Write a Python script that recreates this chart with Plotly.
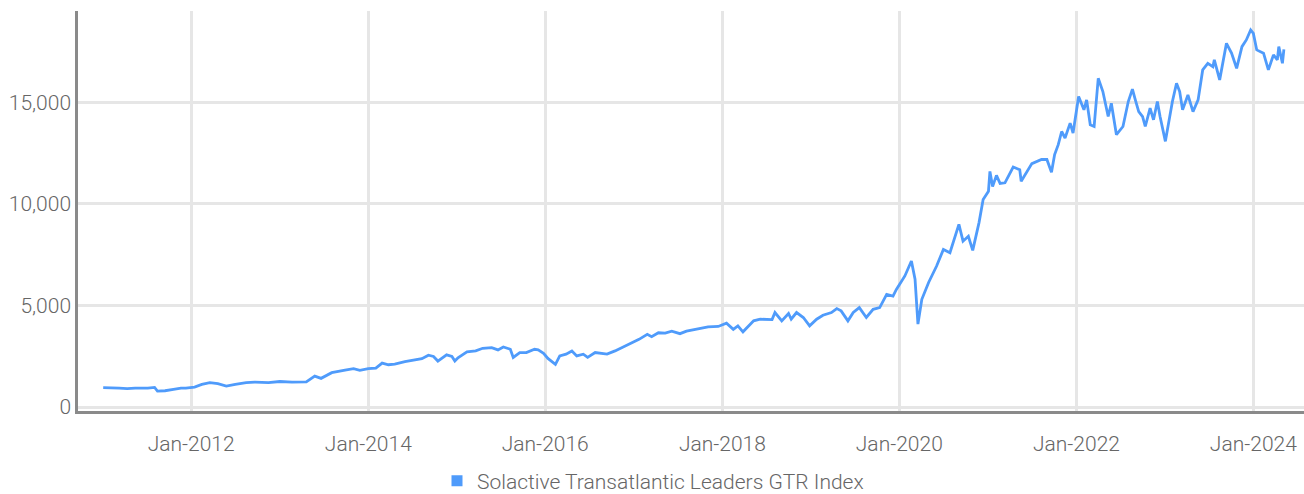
import plotly.graph_objects as go

SERIES_NAME = "Solactive Transatlantic Leaders GTR Index"

dates = [
    "2011-01-03", "2011-02-15", "2011-03-10", "2011-04-12", "2011-05-15", "2011-07-06",
    "2011-08-03", "2011-08-15", "2011-09-15", "2011-10-20", "2011-11-20", "2011-12-10",
    "2012-01-15", "2012-02-14", "2012-03-18", "2012-04-20", "2012-05-25", "2012-07-01",
    "2012-07-28", "2012-08-15", "2012-09-20", "2012-11-15", "2013-01-01", "2013-02-20",
    "2013-04-20", "2013-05-25", "2013-06-20", "2013-08-03", "2013-09-27", "2013-11-01",
    "2013-11-27", "2014-01-01", "2014-02-01", "2014-02-27", "2014-03-25", "2014-04-20",
    "2014-06-01", "2014-07-12", "2014-08-10", "2014-09-06", "2014-09-27", "2014-10-15",
    "2014-11-20", "2014-12-12", "2014-12-24", "2015-01-06", "2015-01-20", "2015-02-12",
    "2015-03-20", "2015-04-18", "2015-05-25", "2015-06-20", "2015-07-12", "2015-08-10",
    "2015-08-22", "2015-09-18", "2015-10-15", "2015-11-18", "2015-12-03", "2015-12-25",
    "2016-01-12", "2016-02-12", "2016-03-01", "2016-03-27", "2016-04-20", "2016-05-10",
    "2016-06-06", "2016-06-24", "2016-07-25", "2016-09-12", "2016-10-15", "2016-12-10",
    "2017-01-22", "2017-02-25", "2017-03-15", "2017-04-12", "2017-05-10", "2017-06-06",
    "2017-07-10", "2017-08-06", "2017-09-10", "2017-10-15", "2017-11-03", "2017-12-15",
    "2018-01-18", "2018-02-15", "2018-03-06", "2018-03-27", "2018-05-10", "2018-06-06",
    "2018-07-25", "2018-08-06", "2018-09-03", "2018-10-01", "2018-10-12", "2018-11-03",
    "2018-12-01", "2018-12-27", "2019-01-25", "2019-02-20", "2019-03-27", "2019-04-18",
    "2019-05-06", "2019-06-03", "2019-06-25", "2019-07-20", "2019-08-18", "2019-09-15",
    "2019-10-12", "2019-11-10", "2019-12-06", "2019-12-20", "2020-01-24", "2020-02-20",
    "2020-03-06", "2020-03-18", "2020-04-03", "2020-05-01", "2020-06-03", "2020-07-01",
    "2020-07-28", "2020-09-03", "2020-09-20", "2020-10-12", "2020-10-30", "2020-11-25",
    "2020-12-12", "2021-01-03", "2021-01-09", "2021-01-20", "2021-02-05", "2021-02-20",
    "2021-03-12", "2021-04-15", "2021-05-12", "2021-05-18", "2021-07-01", "2021-08-10",
    "2021-09-01", "2021-09-20", "2021-10-03", "2021-10-18", "2021-11-01", "2021-11-15",
    "2021-12-06", "2021-12-18", "2022-01-10", "2022-02-01", "2022-02-12", "2022-02-27",
    "2022-03-15", "2022-04-01", "2022-04-20", "2022-05-12", "2022-05-25", "2022-06-15",
    "2022-07-12", "2022-08-03", "2022-08-20", "2022-09-01", "2022-09-15", "2022-10-01",
    "2022-10-12", "2022-11-01", "2022-11-15", "2022-12-01", "2022-12-12", "2023-01-03",
    "2023-02-01", "2023-02-18", "2023-03-03", "2023-03-15", "2023-04-06", "2023-04-27",
    "2023-05-18", "2023-06-06", "2023-06-27", "2023-07-18", "2023-07-24", "2023-08-15",
    "2023-09-12", "2023-10-03", "2023-10-24", "2023-11-15", "2023-12-03", "2023-12-21",
    "2024-01-01", "2024-01-15", "2024-02-12", "2024-03-03", "2024-03-24", "2024-04-09",
    "2024-04-15", "2024-04-30", "2024-05-06",
]

index_values = [
    950, 955, 930, 900, 930, 930,
    965, 785, 800, 865, 930, 930,
    980, 1110, 1195, 1145, 1030, 1110,
    1165, 1195, 1225, 1195, 1255, 1225,
    1240, 1520, 1410, 1690, 1820, 1885,
    1800, 1885, 1915, 2160, 2080, 2110,
    2230, 2305, 2375, 2550, 2485, 2260,
    2565, 2485, 2260, 2425, 2540, 2710,
    2760, 2890, 2925, 2810, 2955, 2840,
    2440, 2680, 2680, 2840, 2810, 2645,
    2390, 2100, 2515, 2600, 2760, 2515,
    2600, 2440, 2680, 2600, 2760, 3085,
    3330, 3575, 3460, 3655, 3640, 3735,
    3610, 3735, 3820, 3900, 3945, 3965,
    4125, 3820, 3995, 3700, 4240, 4320,
    4305, 4650, 4240, 4600, 4320, 4650,
    4405, 3995, 4320, 4515, 4650, 4845,
    4730, 4240, 4650, 4890, 4405, 4810,
    4890, 5540, 5460, 5785, 6450, 7185,
    6290, 4080, 5300, 6130, 6940, 7755,
    7595, 8990, 8160, 8405, 7710, 9075,
    10215, 10620, 11595, 10850, 11400, 11000,
    11035, 11810, 11680, 11110, 11980, 12180,
    12180, 11550, 12425, 12910, 13560, 13240,
    13970, 13485, 15280, 14625, 15115, 13890,
    13805, 16180, 15525, 14295, 14950, 13400,
    13805, 15035, 15645, 15115, 14540, 14295,
    13805, 14710, 14135, 15035, 14295, 13075,
    15035, 15935, 15525, 14625, 15360, 14540,
    15115, 16590, 16915, 16750, 17085, 16100,
    17900, 17415, 16670, 17735, 18065, 18555,
    18390, 17575, 17415, 16590, 17330, 17085,
    17735, 16915, 17600,
]

x_tick_dates = ["2012-01-01", "2014-01-01", "2016-01-01", "2018-01-01",
                "2020-01-01", "2022-01-01", "2024-01-01"]
x_tick_labels = ["Jan-2012", "Jan-2014", "Jan-2016", "Jan-2018",
                 "Jan-2020", "Jan-2022", "Jan-2024"]
y_tick_vals = [0, 5000, 10000, 15000]
y_tick_labels = ["0", "5,000", "10,000", "15,000"]

LINE_COLOR = "#4f9bfb"
TEXT_COLOR = "#666666"
GRID_COLOR = "#e6e6e6"
AXIS_COLOR = "#8a8a8a"
FONT = dict(family="Roboto, Liberation Sans, sans-serif", size=21, color=TEXT_COLOR, weight=300)

fig = go.Figure()
fig.add_trace(go.Scatter(
    x=dates, y=index_values, mode="lines",
    line=dict(color=LINE_COLOR, width=2.8),
    name=SERIES_NAME, showlegend=False,
))
# legend entry (square swatch)
fig.add_trace(go.Scatter(
    x=[None], y=[None], mode="markers",
    marker=dict(symbol="square", size=11, color=LINE_COLOR),
    name=SERIES_NAME, showlegend=True,
))

fig.update_layout(
    width=1304, height=494,
    margin=dict(l=78, r=0, t=11, b=83),
    paper_bgcolor="white", plot_bgcolor="white",
    font=FONT,
    showlegend=True,
    legend=dict(orientation="h", xref="paper", x=0.469, xanchor="center",
                yref="container", y=0.026, yanchor="middle",
                font=FONT, itemwidth=30, bgcolor="rgba(0,0,0,0)"),
    xaxis=dict(
        type="date",
        range=["2010-09-21", "2024-07-28"],
        tickvals=x_tick_dates, ticktext=x_tick_labels,
        showgrid=True, gridcolor=GRID_COLOR, gridwidth=2.5,
        showline=True, linecolor=AXIS_COLOR, linewidth=2.5,
        ticks="", ticklabelstandoff=12,
        tickfont=FONT, zeroline=False, automargin=False,
    ),
    yaxis=dict(
        range=[-197, 19490],
        tickvals=y_tick_vals, ticktext=y_tick_labels,
        showgrid=True, gridcolor=GRID_COLOR, gridwidth=2.5,
        zeroline=False,
        showline=True, linecolor=AXIS_COLOR, linewidth=2.5,
        ticks="", ticklabelstandoff=0,
        tickfont=FONT, automargin=False,
    ),
)

fig.write_html(
    "out.html",
    config={"displayModeBar": False},
    post_script="document.body.style.margin='0';document.body.style.overflow='hidden';",
)
